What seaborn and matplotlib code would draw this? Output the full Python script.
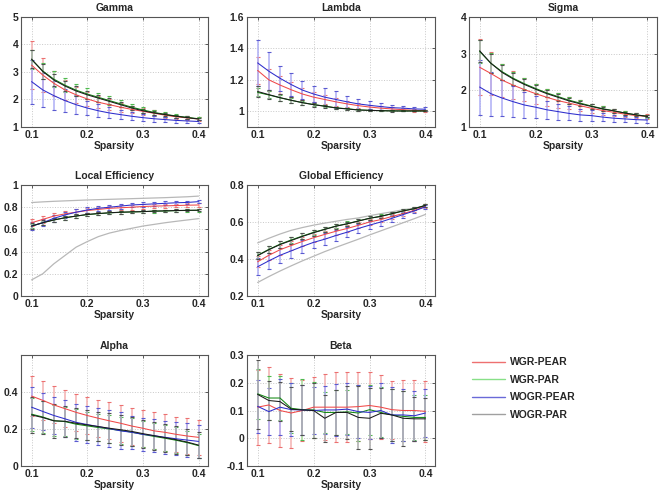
import numpy as np
import pandas as pd
import seaborn as sns
import matplotlib
matplotlib.use('Agg')
import matplotlib.pyplot as plt
from matplotlib.lines import Line2D
from matplotlib.ticker import FuncFormatter

sparsity = [0.10, 0.12, 0.14, 0.16, 0.18, 0.20, 0.22, 0.24,
            0.26, 0.28, 0.30, 0.32, 0.34, 0.36, 0.38, 0.40]
groups = ['WGR-PEAR', 'WGR-PAR', 'WOGR-PEAR', 'WOGR-PAR']

# Gamma
gamma_wgr_pear = [3.25, 2.89, 2.59, 2.35, 2.17, 2.02, 1.90, 1.81, 1.72, 1.64, 1.57, 1.50, 1.43, 1.37, 1.33, 1.29]
gamma_wgr_par = [3.45, 3.04, 2.74, 2.52, 2.34, 2.20, 2.08, 1.96, 1.84, 1.72, 1.62, 1.53, 1.46, 1.40, 1.35, 1.30]
gamma_wogr_pear = [2.65, 2.35, 2.14, 1.96, 1.81, 1.69, 1.59, 1.51, 1.45, 1.39, 1.34, 1.30, 1.27, 1.24, 1.22, 1.20]
gamma_wogr_par = [3.47, 3.02, 2.71, 2.49, 2.31, 2.17, 2.05, 1.93, 1.81, 1.69, 1.59, 1.51, 1.45, 1.39, 1.34, 1.29]
gamma_wgr_pear_sd = [0.87, 0.62, 0.45, 0.36, 0.30, 0.26, 0.22, 0.19, 0.16, 0.14, 0.12, 0.10, 0.09, 0.08, 0.07, 0.06]
gamma_wgr_par_sd = [0.35, 0.30, 0.28, 0.25, 0.22, 0.20, 0.17, 0.15, 0.13, 0.11, 0.10, 0.09, 0.08, 0.07, 0.06, 0.05]
gamma_wogr_pear_sd = [0.80, 0.63, 0.52, 0.42, 0.34, 0.27, 0.23, 0.20, 0.17, 0.15, 0.13, 0.11, 0.10, 0.09, 0.08, 0.07]
gamma_wogr_par_sd = [0.33, 0.27, 0.22, 0.19, 0.17, 0.15, 0.13, 0.11, 0.10, 0.09, 0.08, 0.07, 0.06, 0.05, 0.05, 0.04]

# Lambda
lambda_wgr_pear = [1.26, 1.20, 1.167, 1.137, 1.11, 1.09, 1.075, 1.06, 1.047, 1.036, 1.027, 1.02, 1.015, 1.01, 1.006, 1.004]
lambda_wgr_par = [1.12, 1.104, 1.086, 1.07, 1.055, 1.043, 1.033, 1.022, 1.016, 1.009, 1.006, 1.004, 1.003, 1.002, 1.002, 1.002]
lambda_wogr_pear = [1.308, 1.255, 1.21, 1.17, 1.135, 1.11, 1.09, 1.075, 1.06, 1.047, 1.038, 1.03, 1.023, 1.02, 1.015, 1.013]
lambda_wogr_par = [1.126, 1.106, 1.087, 1.07, 1.055, 1.042, 1.032, 1.021, 1.015, 1.008, 1.006, 1.004, 1.002, 1.002, 1.002, 1.002]
lambda_wgr_pear_sd = [0.085, 0.07, 0.058, 0.048, 0.04, 0.033, 0.028, 0.024, 0.02, 0.017, 0.014, 0.012, 0.01, 0.009, 0.008, 0.007]
lambda_wgr_par_sd = [0.025, 0.022, 0.018, 0.015, 0.012, 0.01, 0.008, 0.007, 0.006, 0.005, 0.004, 0.004, 0.003, 0.003, 0.003, 0.003]
lambda_wogr_pear_sd = [0.145, 0.12, 0.078, 0.073, 0.058, 0.053, 0.055, 0.055, 0.04, 0.033, 0.025, 0.022, 0.018, 0.016, 0.014, 0.013]
lambda_wogr_par_sd = [0.035, 0.028, 0.022, 0.018, 0.015, 0.012, 0.01, 0.008, 0.007, 0.006, 0.005, 0.004, 0.004, 0.003, 0.003, 0.003]

# Sigma
sigma_wgr_pear = [2.63, 2.46, 2.28, 2.14, 2.02, 1.91, 1.81, 1.72, 1.65, 1.58, 1.51, 1.45, 1.40, 1.35, 1.31, 1.29]
sigma_wgr_par = [3.06, 2.74, 2.51, 2.33, 2.18, 2.05, 1.93, 1.83, 1.73, 1.65, 1.57, 1.50, 1.44, 1.38, 1.33, 1.29]
sigma_wogr_pear = [2.09, 1.91, 1.79, 1.69, 1.60, 1.54, 1.47, 1.42, 1.37, 1.33, 1.31, 1.27, 1.24, 1.22, 1.20, 1.19]
sigma_wogr_par = [3.08, 2.74, 2.49, 2.31, 2.16, 2.03, 1.91, 1.81, 1.71, 1.63, 1.56, 1.49, 1.44, 1.38, 1.33, 1.29]
sigma_wgr_pear_sd = [0.77, 0.58, 0.45, 0.38, 0.32, 0.27, 0.23, 0.20, 0.17, 0.15, 0.13, 0.11, 0.10, 0.08, 0.07, 0.06]
sigma_wgr_par_sd = [0.32, 0.28, 0.22, 0.18, 0.15, 0.13, 0.11, 0.10, 0.09, 0.08, 0.07, 0.06, 0.05, 0.05, 0.04, 0.04]
sigma_wogr_pear_sd = [0.75, 0.60, 0.50, 0.42, 0.35, 0.30, 0.25, 0.22, 0.19, 0.16, 0.14, 0.12, 0.10, 0.09, 0.08, 0.07]
sigma_wogr_par_sd = [0.30, 0.26, 0.20, 0.17, 0.14, 0.12, 0.10, 0.09, 0.08, 0.07, 0.06, 0.05, 0.05, 0.04, 0.04, 0.03]

# Local efficiency
leff_wgr_pear = [0.66, 0.69, 0.72, 0.74, 0.755, 0.77, 0.78, 0.79, 0.795, 0.80, 0.806, 0.81, 0.812, 0.815, 0.818, 0.82]
leff_wgr_par = [0.63, 0.66, 0.685, 0.705, 0.72, 0.733, 0.742, 0.749, 0.754, 0.757, 0.76, 0.764, 0.766, 0.769, 0.771, 0.772]
leff_wogr_pear = [0.63, 0.66, 0.70, 0.73, 0.755, 0.775, 0.79, 0.80, 0.81, 0.82, 0.825, 0.83, 0.835, 0.84, 0.843, 0.85]
leff_wogr_par = [0.63, 0.66, 0.685, 0.705, 0.72, 0.735, 0.743, 0.75, 0.755, 0.758, 0.76, 0.765, 0.767, 0.77, 0.772, 0.773]
leff_wgr_pear_sd = [0.03, 0.03, 0.028, 0.027, 0.026, 0.025, 0.024, 0.023, 0.022, 0.021, 0.02, 0.019, 0.018, 0.017, 0.016, 0.015]
leff_wgr_par_sd = [0.02, 0.019, 0.018, 0.017, 0.016, 0.015, 0.015, 0.014, 0.014, 0.013, 0.013, 0.013, 0.012, 0.012, 0.012, 0.012]
leff_wogr_pear_sd = [0.035, 0.033, 0.03, 0.028, 0.026, 0.025, 0.024, 0.023, 0.022, 0.021, 0.02, 0.019, 0.018, 0.017, 0.016, 0.015]
leff_wogr_par_sd = [0.025, 0.022, 0.02, 0.018, 0.016, 0.015, 0.014, 0.013, 0.012, 0.012, 0.011, 0.011, 0.01, 0.01, 0.01, 0.01]
leff_rand = [0.145, 0.20, 0.29, 0.365, 0.44, 0.49, 0.535, 0.567, 0.59, 0.61, 0.63, 0.645, 0.66, 0.673, 0.685, 0.697]
leff_latt = [0.842, 0.848, 0.853, 0.857, 0.861, 0.865, 0.868, 0.871, 0.874, 0.877, 0.88, 0.883, 0.886, 0.89, 0.894, 0.90]

# Global efficiency
geff_wgr_pear = [0.385, 0.42, 0.45, 0.473, 0.495, 0.515, 0.533, 0.55, 0.565, 0.582, 0.60, 0.613, 0.63, 0.645, 0.663, 0.685]
geff_wgr_par = [0.42, 0.452, 0.48, 0.503, 0.524, 0.544, 0.561, 0.578, 0.591, 0.606, 0.62, 0.631, 0.645, 0.66, 0.672, 0.69]
geff_wogr_pear = [0.358, 0.39, 0.42, 0.444, 0.468, 0.49, 0.507, 0.527, 0.545, 0.565, 0.583, 0.60, 0.62, 0.64, 0.66, 0.682]
geff_wogr_par = [0.418, 0.45, 0.478, 0.50, 0.522, 0.542, 0.56, 0.577, 0.59, 0.605, 0.62, 0.63, 0.645, 0.66, 0.672, 0.69]
geff_wgr_pear_sd = [0.03, 0.028, 0.027, 0.025, 0.024, 0.022, 0.021, 0.02, 0.018, 0.017, 0.016, 0.014, 0.013, 0.012, 0.011, 0.01]
geff_wgr_par_sd = [0.02, 0.019, 0.018, 0.017, 0.016, 0.015, 0.014, 0.013, 0.012, 0.012, 0.011, 0.01, 0.01, 0.009, 0.009, 0.008]
geff_wogr_pear_sd = [0.045, 0.042, 0.04, 0.037, 0.035, 0.033, 0.031, 0.029, 0.027, 0.025, 0.022, 0.02, 0.018, 0.016, 0.014, 0.012]
geff_wogr_par_sd = [0.02, 0.019, 0.018, 0.017, 0.016, 0.015, 0.014, 0.013, 0.012, 0.012, 0.011, 0.01, 0.01, 0.009, 0.009, 0.008]
geff_rand = [0.487, 0.512, 0.535, 0.555, 0.57, 0.583, 0.594, 0.604, 0.614, 0.622, 0.634, 0.645, 0.655, 0.666, 0.675, 0.688]
geff_latt = [0.273, 0.305, 0.335, 0.363, 0.39, 0.415, 0.44, 0.463, 0.485, 0.507, 0.53, 0.552, 0.574, 0.596, 0.618, 0.641]

# Alpha
alpha_wgr_pear = [0.378, 0.355, 0.33, 0.31, 0.29, 0.273, 0.258, 0.244, 0.231, 0.216, 0.204, 0.19, 0.182, 0.171, 0.162, 0.155]
alpha_wgr_par = [0.28, 0.265, 0.245, 0.24, 0.226, 0.217, 0.208, 0.2, 0.192, 0.183, 0.171, 0.16, 0.15, 0.139, 0.126, 0.11]
alpha_wogr_pear = [0.318, 0.295, 0.273, 0.255, 0.236, 0.224, 0.213, 0.202, 0.19, 0.182, 0.171, 0.164, 0.155, 0.147, 0.14, 0.133]
alpha_wogr_par = [0.276, 0.262, 0.244, 0.242, 0.231, 0.222, 0.213, 0.204, 0.196, 0.187, 0.175, 0.164, 0.153, 0.142, 0.129, 0.113]
alpha_wgr_pear_sd = [0.11, 0.105, 0.1, 0.1, 0.1, 0.1, 0.1, 0.1, 0.1, 0.1, 0.1, 0.1, 0.1, 0.095, 0.095, 0.094]
alpha_wgr_par_sd = [0.09, 0.085, 0.085, 0.08, 0.08, 0.075, 0.075, 0.075, 0.075, 0.075, 0.07, 0.07, 0.07, 0.07, 0.065, 0.065]
alpha_wogr_pear_sd = [0.11, 0.1, 0.1, 0.1, 0.1, 0.1, 0.1, 0.1, 0.1, 0.09, 0.09, 0.09, 0.09, 0.09, 0.09, 0.09]
alpha_wogr_par_sd = [0.095, 0.09, 0.09, 0.085, 0.08, 0.08, 0.08, 0.08, 0.08, 0.08, 0.075, 0.075, 0.075, 0.075, 0.07, 0.07]

# Beta
beta_wgr_pear = [0.112, 0.12, 0.1, 0.091, 0.1, 0.112, 0.112, 0.112, 0.112, 0.114, 0.118, 0.112, 0.103, 0.1, 0.1, 0.097]
beta_wgr_par = [0.16, 0.145, 0.145, 0.108, 0.103, 0.102, 0.093, 0.093, 0.095, 0.091, 0.103, 0.093, 0.084, 0.079, 0.075, 0.075]
beta_wogr_pear = [0.115, 0.096, 0.112, 0.103, 0.102, 0.1, 0.102, 0.102, 0.105, 0.096, 0.093, 0.1, 0.084, 0.084, 0.081, 0.091]
beta_wogr_par = [0.158, 0.136, 0.132, 0.105, 0.102, 0.1, 0.072, 0.093, 0.093, 0.075, 0.072, 0.09, 0.084, 0.072, 0.07, 0.07]
beta_wgr_pear_sd = [0.135, 0.137, 0.13, 0.125, 0.11, 0.11, 0.12, 0.125, 0.125, 0.125, 0.12, 0.115, 0.105, 0.11, 0.11, 0.11]
beta_wgr_par_sd = [0.09, 0.08, 0.08, 0.09, 0.11, 0.1, 0.075, 0.08, 0.08, 0.1, 0.09, 0.09, 0.095, 0.09, 0.08, 0.08]
beta_wogr_pear_sd = [0.095, 0.085, 0.1, 0.095, 0.09, 0.085, 0.085, 0.095, 0.095, 0.095, 0.095, 0.1, 0.1, 0.095, 0.09, 0.085]
beta_wogr_par_sd = [0.123, 0.07, 0.07, 0.08, 0.09, 0.1, 0.085, 0.08, 0.095, 0.115, 0.11, 0.09, 0.095, 0.1, 0.08, 0.075]

line_colors = {'WGR-PEAR': '#f04848', 'WGR-PAR': '#118811', 'WOGR-PEAR': '#2d2dcc', 'WOGR-PAR': '#1a1a1a'}
bar_colors = {'WGR-PEAR': '#f4b0b0', 'WGR-PAR': '#a8eaa8', 'WOGR-PEAR': '#adadf5', 'WOGR-PAR': '#ababab'}
cap_colors = {'WGR-PEAR': '#ec7070', 'WGR-PAR': '#50b850', 'WOGR-PEAR': '#5a5ad0', 'WOGR-PAR': '#505050'}
legend_colors = {'WGR-PEAR': '#ee7070', 'WGR-PAR': '#88e088', 'WOGR-PEAR': '#6a6ad8', 'WOGR-PAR': '#a0a0a0'}

panels = [
    ('Gamma', [gamma_wgr_pear, gamma_wgr_par, gamma_wogr_pear, gamma_wogr_par],
     [gamma_wgr_pear_sd, gamma_wgr_par_sd, gamma_wogr_pear_sd, gamma_wogr_par_sd],
     None, (1, 5), [1, 2, 3, 4, 5]),
    ('Lambda', [lambda_wgr_pear, lambda_wgr_par, lambda_wogr_pear, lambda_wogr_par],
     [lambda_wgr_pear_sd, lambda_wgr_par_sd, lambda_wogr_pear_sd, lambda_wogr_par_sd],
     None, (0.9, 1.6), [1, 1.2, 1.4, 1.6]),
    ('Sigma', [sigma_wgr_pear, sigma_wgr_par, sigma_wogr_pear, sigma_wogr_par],
     [sigma_wgr_pear_sd, sigma_wgr_par_sd, sigma_wogr_pear_sd, sigma_wogr_par_sd],
     None, (1, 4), [1, 2, 3, 4]),
    ('Local Efficiency', [leff_wgr_pear, leff_wgr_par, leff_wogr_pear, leff_wogr_par],
     [leff_wgr_pear_sd, leff_wgr_par_sd, leff_wogr_pear_sd, leff_wogr_par_sd],
     [leff_rand, leff_latt], (0, 1), [0, 0.2, 0.4, 0.6, 0.8, 1]),
    ('Global Efficiency', [geff_wgr_pear, geff_wgr_par, geff_wogr_pear, geff_wogr_par],
     [geff_wgr_pear_sd, geff_wgr_par_sd, geff_wogr_pear_sd, geff_wogr_par_sd],
     [geff_rand, geff_latt], (0.2, 0.8), [0.2, 0.4, 0.6, 0.8]),
    ('Alpha', [alpha_wgr_pear, alpha_wgr_par, alpha_wogr_pear, alpha_wogr_par],
     [alpha_wgr_pear_sd, alpha_wgr_par_sd, alpha_wogr_pear_sd, alpha_wogr_par_sd],
     None, (0, 0.6), [0, 0.2, 0.4]),
    ('Beta', [beta_wgr_pear, beta_wgr_par, beta_wogr_pear, beta_wogr_par],
     [beta_wgr_pear_sd, beta_wgr_par_sd, beta_wogr_pear_sd, beta_wogr_par_sd],
     None, (-0.1, 0.3), [-0.1, 0, 0.1, 0.2, 0.3]),
]

sns.set_style('whitegrid')
plt.rcParams['font.family'] = ['Liberation Sans', 'DejaVu Sans']
plt.rcParams['font.weight'] = 'bold'
plt.rcParams['font.size'] = 7.5

W, H = 661, 494
fig = plt.figure(figsize=(W / 100, H / 100), dpi=100)

cols = [(21, 208), (247, 435), (469, 657)]
rows = [(17, 127), (185, 296), (355, 466)]
slots = [(0, 0), (0, 1), (0, 2), (1, 0), (1, 1), (2, 0), (2, 1)]

fmt = FuncFormatter(lambda v, p: '%g' % round(v, 3))

for (title, means, sds, refs, ylim, yticks), (r, c) in zip(panels, slots):
    x0, x1 = cols[c]
    y0, y1 = rows[r]
    ax = fig.add_axes([x0 / W, 1 - y1 / H, (x1 - x0) / W, (y1 - y0) / H])

    if refs is not None:
        for ref in refs:
            sns.lineplot(x=sparsity, y=ref, ax=ax, color='#b8b8b8', linewidth=0.9)

    for g, m, s in zip(groups, means, sds):
        _, caps, _ = ax.errorbar(sparsity, m, yerr=s, fmt='none', ecolor=bar_colors[g],
                                 elinewidth=1.1, capsize=1.6, capthick=0.8)
        for cap in caps:
            cap.set_markeredgecolor(cap_colors[g])

    df = pd.DataFrame({'Sparsity': np.tile(sparsity, 4),
                       'value': np.concatenate(means),
                       'group': np.repeat(groups, len(sparsity))})
    sns.lineplot(data=df, x='Sparsity', y='value', hue='group', hue_order=groups,
                 palette=line_colors, linewidth=0.75, ax=ax, legend=False)

    ax.set_xlim(0.081, 0.417)
    ax.set_ylim(*ylim)
    ax.set_xticks([0.1, 0.2, 0.3, 0.4])
    ax.set_yticks(yticks)
    ax.xaxis.set_major_formatter(fmt)
    ax.yaxis.set_major_formatter(fmt)
    ax.grid(True, color='#c8c8c8', ls=':', lw=0.7)
    ax.tick_params(direction='in', length=2, width=0.6, pad=2, labelsize=7.5,
                   top=True, right=True, color='#404040')
    for sp in ax.spines.values():
        sp.set_color('#555555')
        sp.set_linewidth(0.8)
    ax.set_title(title, fontsize=7.5, fontweight='bold', pad=4)
    ax.set_xlabel('Sparsity', fontsize=7.5, fontweight='bold', labelpad=1)
    ax.set_ylabel('')

handles = [Line2D([], [], color=legend_colors[g], lw=1.0) for g in groups]
fig.legend(handles, groups, loc='upper left', bbox_to_anchor=(463 / W, 1 - 348 / H),
           frameon=False, handlelength=3.1, handletextpad=0.5, labelspacing=0.72,
           prop={'size': 7.5, 'weight': 'bold'})

fig.savefig('out.png', dpi=100)
